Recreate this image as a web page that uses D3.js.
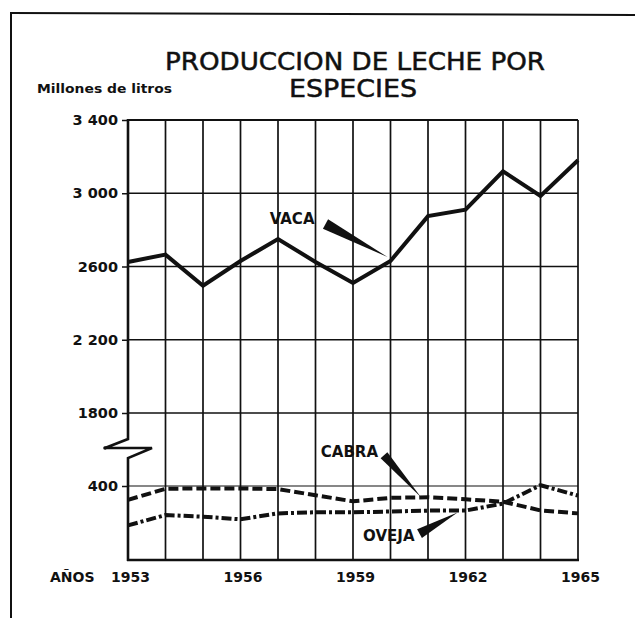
<!DOCTYPE html>
<html><head><meta charset="utf-8">
<script src="https://cdn.jsdelivr.net/npm/d3@7"></script>
<style>
html,body{margin:0;padding:0;background:#fff;}
svg{display:block;}
text{font-family:"DejaVu Sans",Arial,sans-serif;fill:#111;}
</style></head>
<body>
<svg id="c" width="635" height="618"></svg>
<script>
const years = [1953,1954,1955,1956,1957,1958,1959,1960,1961,1962,1963,1964,1965];
const vaca  = [2625,2665,2495,2630,2750,2625,2510,2630,2875,2910,3120,2985,3180];
const cabra = [325,385,387,387,383,350,317,336,339,328,315,268,252];
const oveja = [187,243,234,220,252,258,258,262,267,267,305,415,348];
const yTickValues = [400,1800,2200,2600,3000,3400];
const yTickLabels = ["400","1800","2 200","2600","3 000","3 400"];
const xTickValues = [1953,1956,1959,1962,1965];
const titleLines = ["PRODUCCION DE LECHE POR","ESPECIES"];
const yAxisTitle = "Millones de litros";
const xAxisTitle = "AÑOS";

const svg = d3.select("#c");
const ink = "#111";
const FONT = "'DejaVu Sans',Arial,sans-serif";

// frame
svg.append("line").attr("x1",10).attr("y1",13).attr("x2",635).attr("y2",15).attr("stroke",ink).attr("stroke-width",2);
svg.append("line").attr("x1",11).attr("y1",13).attr("x2",11).attr("y2",618).attr("stroke",ink).attr("stroke-width",2);

const x = d3.scaleLinear().domain([1953,1965]).range([128,578]);
const y = d3.scaleLinear().domain([0,400,1800,3400]).range([560,486,413,120]);

// vertical grid
svg.append("g").selectAll("line").data(years.slice(1)).join("line")
  .attr("x1",d=>x(d)).attr("x2",d=>x(d)).attr("y1",y(3400)).attr("y2",y(0))
  .attr("stroke",ink).attr("stroke-width",1.7);
// horizontal grid
svg.append("g").selectAll("line").data(yTickValues).join("line")
  .attr("x1",x(1953)).attr("x2",x(1965)).attr("y1",d=>y(d)).attr("y2",d=>y(d))
  .attr("stroke",ink).attr("stroke-width",d=>d===3400?2.2:(d===400?1.1:1.5));

// y axis labels
const yAxis = d3.axisLeft(y).tickValues(yTickValues).tickSize(6).tickPadding(4)
  .tickFormat((d,i)=>yTickLabels[i]);
const gy = svg.append("g").attr("transform",`translate(${x(1953)},0)`).call(yAxis);
gy.select(".domain").remove();
gy.selectAll(".tick line").attr("stroke",ink).attr("stroke-width",1.5);
gy.selectAll(".tick text").attr("font-size",14.5).attr("font-weight","bold").attr("fill",ink)
  .style("font-family",FONT);

// left axis with break
const bx = x(1953);
svg.append("path").attr("d",`M${bx},${y(3400)-1}L${bx},439L105,448L152,448L${bx},458L${bx},${y(0)+1}`)
  .attr("fill","none").attr("stroke",ink).attr("stroke-width",2.6).attr("stroke-linejoin","miter");
svg.append("circle").attr("cx",105).attr("cy",448).attr("r",1.8).attr("fill",ink);
// bottom axis
svg.append("line").attr("x1",bx-1).attr("x2",x(1965)+1).attr("y1",y(0)).attr("y2",y(0))
  .attr("stroke",ink).attr("stroke-width",2.6);

// x axis labels
const xAxis = d3.axisBottom(x).tickValues(xTickValues).tickSize(0).tickPadding(12).tickFormat(d3.format("d"));
const gx = svg.append("g").attr("transform",`translate(2,${y(0)})`).call(xAxis);
gx.select(".domain").remove();
gx.selectAll(".tick text").attr("font-size",14).attr("font-weight","bold").attr("fill",ink)
  .style("font-family",FONT);
svg.append("text").attr("x",50).attr("y",582).attr("font-size",14).attr("font-weight","bold").text(xAxisTitle);

// titles
svg.append("text").attr("x",355).attr("y",70).attr("text-anchor","middle").attr("font-size",24)
  .attr("stroke",ink).attr("stroke-width",0.5)
  .attr("textLength",380).attr("lengthAdjust","spacingAndGlyphs").text(titleLines[0]);
svg.append("text").attr("x",353).attr("y",97).attr("text-anchor","middle").attr("font-size",24)
  .attr("stroke",ink).attr("stroke-width",0.5)
  .attr("textLength",128).attr("lengthAdjust","spacingAndGlyphs").text(titleLines[1]);
svg.append("text").attr("x",37).attr("y",93).attr("font-size",13).attr("font-weight","bold")
  .attr("textLength",135).attr("lengthAdjust","spacingAndGlyphs").text(yAxisTitle);

// series lines
const line = d3.line().x((d,i)=>x(years[i])).y(d=>y(d));
svg.append("path").datum(vaca).attr("d",line).attr("fill","none").attr("stroke",ink)
  .attr("stroke-width",4).attr("stroke-linejoin","miter");
svg.append("path").datum(cabra).attr("d",line).attr("fill","none").attr("stroke",ink)
  .attr("stroke-width",4).attr("stroke-dasharray","10,4");
svg.append("path").datum(oveja).attr("d",line).attr("fill","none").attr("stroke",ink)
  .attr("stroke-width",4).attr("stroke-dasharray","10,3,3,3");

// annotations (pointer wedges)
function wedge(tip, base, w){
  const dx = tip[0]-base[0], dy = tip[1]-base[1], L = Math.hypot(dx,dy);
  const nx = -dy/L*w/2, ny = dx/L*w/2;
  return `M${base[0]+nx},${base[1]+ny}L${base[0]-nx},${base[1]-ny}L${tip[0]},${tip[1]}Z`;
}
const ann = [
  {label:"VACA", series:vaca, yr:1960, off:[-3,-4], base:[-62,-33], w:11, t:[-11,-5]},
  {label:"CABRA", series:cabra, yr:1961, off:[-7,0], base:[-37,-42], w:9, t:[-6,-4]},
  {label:"OVEJA", series:oveja, yr:1962, off:[-8,2], base:[-38,21], w:10, t:[-5,2]}
];
ann.forEach(a=>{
  const i = years.indexOf(a.yr);
  const tip = [x(a.yr)+a.off[0], y(a.series[i])+a.off[1]];
  const base = [tip[0]+a.base[0], tip[1]+a.base[1]];
  svg.append("path").attr("d",wedge(tip,base,a.w)).attr("fill",ink);
  svg.append("text").attr("x",base[0]+a.t[0]).attr("y",base[1]+a.t[1]).attr("dy","0.35em")
    .attr("text-anchor","end").attr("font-size",15).attr("font-weight","bold").text(a.label);
});
</script>
</body></html>
